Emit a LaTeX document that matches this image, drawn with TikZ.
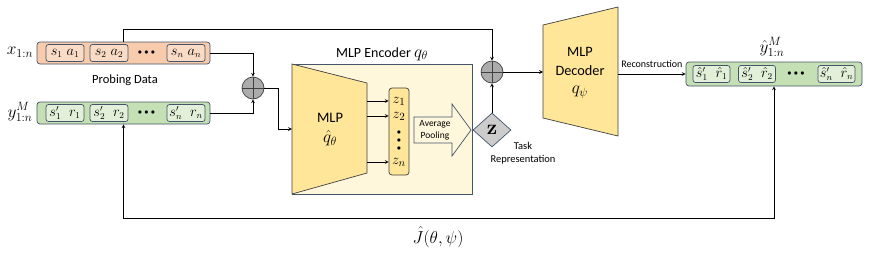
\documentclass[tikz,border=0pt]{standalone}
\usepackage{amsmath,amssymb,bm}
\usepackage[no-math]{fontspec}
\setmainfont{Carlito}
\usepackage{tikz}
\usetikzlibrary{shapes.geometric}

\definecolor{edge}{HTML}{44546A}
\definecolor{peach}{HTML}{F8CBAD}
\definecolor{peachin}{HTML}{FADCC6}
\definecolor{leaf}{HTML}{C5E0B4}
\definecolor{leafin}{HTML}{E2F0D9}
\definecolor{cream}{HTML}{FFF7DC}
\definecolor{mlpfill}{HTML}{FFE699}
\definecolor{dark}{HTML}{404040}

\newcommand{\threedots}{$\mathord{\bullet}\;\mathord{\bullet}\;\mathord{\bullet}$}
\newcommand{\bigmath}[1]{{\fontsize{17}{20}\selectfont$#1$}}

\begin{document}
\begin{tikzpicture}[x=1pt,y=-1pt,>=stealth,line width=0.7pt,
  databox/.style={draw=edge,rounded corners=3pt,minimum height=22,inner sep=0},
  itembox/.style={draw=edge,rounded corners=2.5pt,minimum width=38,minimum height=17,inner sep=0,font=\fontsize{13.5}{14}\selectfont},
  plusnode/.style={circle,draw=dark,fill=gray!65,minimum size=22,inner sep=0,
    path picture={\draw[dark] (path picture bounding box.north) -- (path picture bounding box.south)
      (path picture bounding box.west) -- (path picture bounding box.east);}},
  trap/.style={draw=dark,fill=mlpfill},
  txt/.style={align=center,inner sep=0},
  dots/.style={txt,font=\fontsize{8}{8}\selectfont},
  zlab/.style={txt,font=\fontsize{15}{15}\selectfont}]
\useasboundingbox (0,0) rectangle (872,252);

% probing data
\node[databox,fill=peach,minimum width=173] (xbox) at (123.5,53) {};
\node[itembox,fill=peachin] (x1) at (65,53) {$s_1\;a_1$};
\node[itembox,fill=peachin] (x2) at (109,53) {$s_2\;a_2$};
\node[dots] (xd) at (146.5,53) {\threedots};
\node[itembox,fill=peachin] (xn) at (186,53) {$s_n\;a_n$};
\node[txt] (xlab) at (20,52) {\bigmath{x_{1:n}}};
\node[txt,font=\fontsize{12.5}{14}\selectfont] (probe) at (125,80) {Probing Data};

\node[databox,fill=leaf,minimum width=173] (ybox) at (123.5,113) {};
\node[itembox,fill=leafin] (y1) at (65,113) {$s'_1\;\;r_1$};
\node[itembox,fill=leafin] (y2) at (109,113) {$s'_2\;\;r_2$};
\node[dots] (yd) at (146.5,113) {\threedots};
\node[itembox,fill=leafin] (yn) at (186,113) {$s'_n\;\;r_n$};
\node[txt] (ylab) at (20,112) {\bigmath{y^M_{1:n}}};

\node[plusnode] (add1) at (253,88) {};
\draw[->] (xbox.east) -| (add1.north);
\draw[->] (ybox.east) -| (add1.south);

% encoder
\node[draw=edge,fill=cream,minimum width=180,minimum height=130,inner sep=0] (enc) at (382,129) {};
\node[txt,font=\fontsize{14}{15}\selectfont] (enctitle) at (382,54) {MLP Encoder \bigmath{q_\theta}};
\draw[trap] (292,64) -- (367,83) -- (367,173) -- (292,194) -- cycle;
\coordinate (encin) at (292,129);
\coordinate (mlpr) at (367,0);
\node[txt,font=\fontsize{14.5}{20}\selectfont] (mlpq) at (330,130) {MLP\\\bigmath{\hat{q}_\theta}};
\draw[->] (add1.east) -- ++(14,0) |- (encin);

\node[draw=dark,fill=mlpfill,rounded corners=3pt,minimum width=20,minimum height=87,inner sep=0] (zcol) at (399,131.5) {};
\node[zlab] (z1) at (399,101) {$z_1$};
\node[zlab] (z2) at (399,116) {$z_2$};
\node[dots] (zv) at (399,141) {$\mathord{\bullet}$\\$\mathord{\bullet}$\\$\mathord{\bullet}$};
\node[zlab] (zn) at (399,162) {$z_n$};
\foreach \nm in {z1,z2,zn}
  \draw[->] (\nm -| mlpr) -- (\nm -| zcol.west);

\draw[draw=edge,fill=cream] (414,117) -- (452,117) -- (452,104) -- (471,130) -- (452,156) -- (452,143) -- (414,143) -- cycle;
\node[txt,font=\fontsize{9.5}{12}\selectfont] (pool) at (435,130) {Average\\Pooling};

% task representation
\node[diamond,draw=edge,fill=gray!40,minimum width=38,minimum height=34,inner sep=0,font=\fontsize{21}{21}\selectfont] (zrep) at (492,130) {$\mathbf{z}$};
\node[txt,font=\fontsize{10.5}{13}\selectfont] (task) at (523,153) {Task\\Representation};
\node[plusnode] (add2) at (492,72) {};
\draw[->] (xbox.north) -- ++(0,-12) -| (add2.north);
\draw[->] (zrep.north) -- (add2.south);

% decoder
\draw[trap] (543,25) -- (618,7) -- (618,136) -- (543,118) -- cycle;
\coordinate (decin) at (543,72);
\coordinate (decout) at (618,74);
\node[txt,font=\fontsize{14.3}{18.5}\selectfont] (dec) at (580,73) {MLP\\Decoder\\\bigmath{q_\psi}};
\draw[->] (add2.east) -- (decin);

% reconstruction
\node[databox,fill=leaf,minimum width=176,minimum height=24] (outbox) at (774,74) {};
\node[itembox,fill=leafin,minimum width=37] (o1) at (711.5,74) {$\hat{s}'_1\;\;\hat{r}_1$};
\node[itembox,fill=leafin,minimum width=37] (o2) at (757,74) {$\hat{s}'_2\;\;\hat{r}_2$};
\node[dots] (od) at (796,74) {\threedots};
\node[itembox,fill=leafin,minimum width=37] (on) at (836.5,74) {$\hat{s}'_n\;\;\hat{r}_n$};
\node[txt] (olab) at (772,47) {\bigmath{\hat{y}^M_{1:n}}};
\draw[->] (decout) -- (decout -| outbox.west) node[midway,above=3pt,font=\fontsize{10}{12}\selectfont] {Reconstruction};

% objective
\draw[<->] (ybox.south) -- ++(0,94) -| (outbox.south);
\node[txt,font=\fontsize{17}{19}\selectfont] (obj) at (438,237) {$\hat{J}(\theta,\psi)$};
\end{tikzpicture}
\end{document}
